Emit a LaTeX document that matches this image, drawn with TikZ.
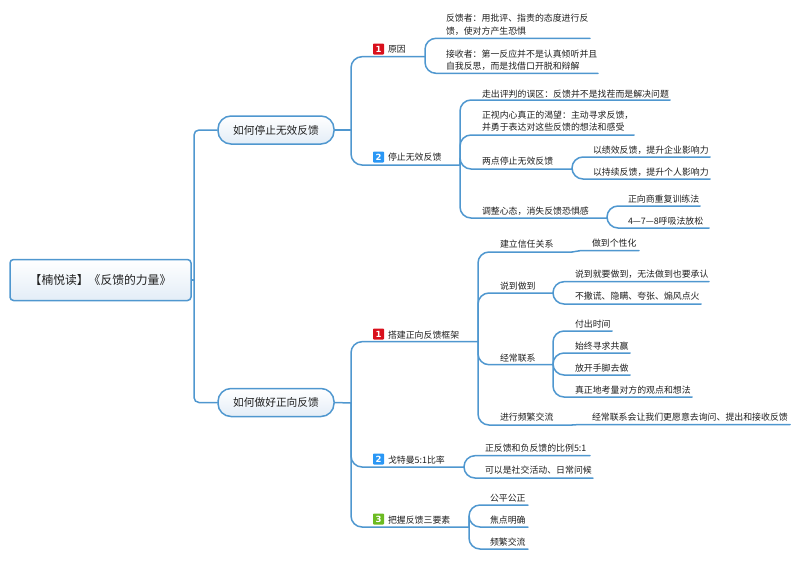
\documentclass[tikz,border=0pt]{standalone}
\usepackage{fontspec}
\setmainfont{Noto Sans CJK SC}
\newfontfamily\badgefont{DejaVu Sans}
\definecolor{linec}{HTML}{4F97CF}
\definecolor{inkc}{HTML}{1F1F1F}
\definecolor{fillc}{HTML}{E3EDF7}
\definecolor{redb}{HTML}{D9101C}
\definecolor{blueb}{HTML}{2A97F5}
\definecolor{greenb}{HTML}{6CBB22}
\tikzset{
  txt/.style={anchor=west,inner sep=0pt,outer sep=0pt,align=left,text=inkc,font=\fontsize{8.9}{12.6}\selectfont},
  barnode/.style={anchor=west,inner sep=0pt,outer sep=0pt,minimum height=0pt},
  conn/.style={draw=linec,line width=1.5pt,rounded corners=11pt,line cap=round},
  rootbox/.style={rounded corners=3.5pt,draw=linec,line width=1.5pt,top color=white,bottom color=fillc,minimum width=181pt,minimum height=41pt,inner sep=0pt,text=inkc,font=\fontsize{11.8}{14}\selectfont},
  mainbox/.style={rounded corners=13pt,draw=linec,line width=1.5pt,top color=white,bottom color=fillc,minimum width=116pt,minimum height=28pt,inner sep=0pt,text=inkc,font=\fontsize{10.7}{13}\selectfont},
  badge/.style={rounded corners=0.8pt,fill=#1,text=white,minimum size=11pt,inner sep=0pt,font=\badgefont\bfseries\fontsize{8.5}{8.5}\selectfont}
}
% bar: name, x0, x1, y
\newcommand{\hlbar}[4]{\node[barnode,minimum width={(#3-#2)*1pt}] (#1) at (#2,#4) {};}
% branch from parent bar end along child bar
\newcommand{\brn}[2]{\draw[conn] (#1.east) |- (#2.east);}
\begin{document}
\begin{tikzpicture}[x=1pt,y=-1pt]
\useasboundingbox (0,0) rectangle (800,560);
% boxes
\node[rootbox] (root) at (100.5,280) {【楠悦读】《反馈的力量》};
\node[mainbox] (m1) at (276,130) {如何停止无效反馈};
\node[mainbox] (m2) at (276,402.5) {如何做好正向反馈};
\coordinate (j0) at (194,280);
\coordinate (j1) at (351,130);
\coordinate (j2) at (351,403);
\draw[conn,rounded corners=0pt] (root.east) -- (j0);
\draw[conn,rounded corners=5pt] (j0) |- (m1.west);
\draw[conn,rounded corners=5pt] (j0) |- (m2.west);
\draw[conn] (m1.east) -- (j1);
\draw[conn] (m2.east) -- (j2);
% level 1 bars
\hlbar{a}{363}{425}{56.7}
\hlbar{b}{363}{460}{165}
\hlbar{c}{363}{478}{341.7}
\hlbar{d}{363}{464}{467}
\hlbar{e}{363}{469}{527}
\draw[conn] (j1) |- (a.east);
\draw[conn] (j1) |- (b.east);
\draw[conn] (j2) |- (c.east);
\draw[conn] (j2) |- (d.east);
\draw[conn] (j2) |- (e.east);
% level 1 labels and badges
\node[badge=redb] (ba) at (378.5,49) {1};
\node[badge=blueb] (bb) at (378.5,157) {2};
\node[badge=redb] (bc) at (378.5,334) {1};
\node[badge=blueb] (bd) at (378.5,459) {2};
\node[badge=greenb] (be) at (378.5,519) {3};
\node[txt] (ta) at (388,49.5) {原因};
\node[txt] (tb) at (388,157.5) {停止无效反馈};
\node[txt] (tc) at (388,335) {搭建正向反馈框架};
\node[txt] (td) at (388,460) {戈特曼5:1比率};
\node[txt] (te) at (388,520) {把握反馈三要素};
% a children
\hlbar{a1}{436}{590}{38.3}
\hlbar{a2}{436}{598}{73.3}
\brn{a}{a1}\brn{a}{a2}
\node[txt] (ta1) at (446,25) {反馈者：用批评、指责的态度进行反\\馈，使对方产生恐惧};
\node[txt] (ta2) at (446,60) {接收者：第一反应并不是认真倾听并且\\自我反思，而是找借口开脱和辩解};
% b children
\hlbar{b1}{471}{670}{100}
\hlbar{b2}{471}{634}{135}
\hlbar{b3}{471}{572}{169}
\hlbar{b4}{471}{607}{218}
\brn{b}{b1}\brn{b}{b2}\brn{b}{b3}\brn{b}{b4}
\node[txt] (tb1) at (482,94) {走出评判的误区：反馈并不是找茬而是解决问题};
\node[txt] (tb2) at (482,121) {正视内心真正的渴望：主动寻求反馈，\\并勇于表达对这些反馈的想法和感受};
\node[txt] (tb3) at (482,161.5) {两点停止无效反馈};
\node[txt] (tb4) at (482,211) {调整心态，消失反馈恐惧感};
\hlbar{b31}{583}{710}{157}
\hlbar{b32}{583}{710}{179}
\brn{b3}{b31}\brn{b3}{b32}
\node[txt] (tb31) at (593,150) {以绩效反馈，提升企业影响力};
\node[txt] (tb32) at (593,172) {以持续反馈，提升个人影响力};
\hlbar{b41}{618}{700}{206}
\hlbar{b42}{618}{709}{228}
\brn{b4}{b41}\brn{b4}{b42}
\node[txt] (tb41) at (628,199) {正向商重复训练法};
\node[txt] (tb42) at (628,221) {4—7—8呼吸法放松};
% c children
\hlbar{c1}{490}{572}{252}
\hlbar{c2}{490}{553}{293}
\hlbar{c3}{490}{553}{364.7}
\hlbar{c4}{490}{572}{425}
\brn{c}{c1}\brn{c}{c2}\brn{c}{c3}\brn{c}{c4}
\node[txt] (tc1) at (500,244.5) {建立信任关系};
\node[txt] (tc2) at (500,286) {说到做到};
\node[txt] (tc3) at (500,358) {经常联系};
\node[txt] (tc4) at (500,417.5) {进行频繁交流};
\hlbar{c11}{580}{639}{250.7}
\draw[conn,rounded corners=0pt] (c1.east) -- (c11.west) -- (c11.east);
\node[txt] (tc11) at (592,243.5) {做到个性化};
\hlbar{c21}{564}{709}{281.7}
\hlbar{c22}{564}{701}{304}
\brn{c2}{c21}\brn{c2}{c22}
\node[txt] (tc21) at (575,274) {说到就要做到，无法做到也要承认};
\node[txt] (tc22) at (575,296) {不撒谎、隐瞒、夸张、煽风点火};
\hlbar{c31}{564}{612}{331}
\hlbar{c32}{564}{630}{353}
\hlbar{c33}{564}{630}{375}
\hlbar{c34}{564}{692}{397}
\brn{c3}{c31}\brn{c3}{c32}\brn{c3}{c33}\brn{c3}{c34}
\node[txt] (tc31) at (575,324) {付出时间};
\node[txt] (tc32) at (575,346) {始终寻求共赢};
\node[txt] (tc33) at (575,368) {放开手脚去做};
\node[txt] (tc34) at (575,390) {真正地考量对方的观点和想法};
\hlbar{c41}{580}{790}{424.5}
\draw[conn,rounded corners=0pt] (c4.east) -- (c41.west) -- (c41.east);
\node[txt] (tc41) at (592,417.5) {经常联系会让我们更愿意去询问、提出和接收反馈};
% d children
\hlbar{d1}{475}{590}{455.7}
\hlbar{d2}{475}{593}{478}
\brn{d}{d1}\brn{d}{d2}
\node[txt] (td1) at (485,448) {正反馈和负反馈的比例5:1};
\node[txt] (td2) at (485,470) {可以是社交活动、日常问候};
% e children
\hlbar{e1}{480}{528}{505}
\hlbar{e2}{480}{528}{527}
\hlbar{e3}{480}{528}{549}
\brn{e}{e1}\brn{e}{e2}\brn{e}{e3}
\node[txt] (te1) at (490,498) {公平公正};
\node[txt] (te2) at (490,520) {焦点明确};
\node[txt] (te3) at (490,542) {频繁交流};
\end{tikzpicture}
\end{document}
